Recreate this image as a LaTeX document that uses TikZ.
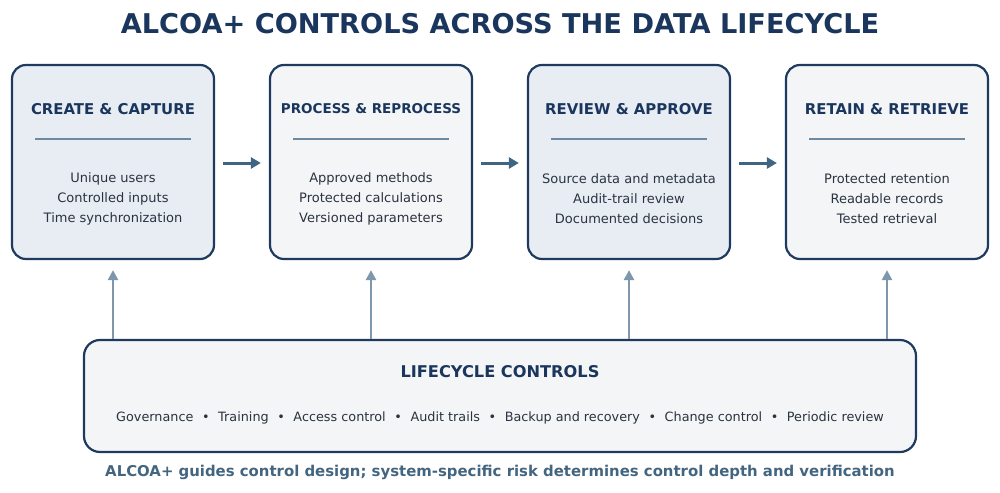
\documentclass[tikz,border=0pt]{standalone}
\usepackage{fontspec}
\setmainfont{DejaVu Sans}
\usetikzlibrary{arrows.meta,positioning}
\definecolor{navy}{HTML}{1B365D}
\definecolor{border}{HTML}{1E3A5F}
\definecolor{fillA}{HTML}{E8EDF4}
\definecolor{fillB}{HTML}{F4F5F7}
\definecolor{sep}{HTML}{6E8AA3}
\definecolor{harrow}{HTML}{3F6584}
\definecolor{varrow}{HTML}{7E97AC}
\definecolor{capc}{HTML}{43657F}
\definecolor{bodyc}{HTML}{2A3340}
\newcommand{\bsep}{\hspace{8.6pt}•\hspace{8.6pt}}
\tikzset{
  x=1pt, y=-1pt,
  stage/.style={draw=border, line width=2.2pt, rounded corners=14pt, minimum width=202pt, minimum height=194pt, inner sep=0pt},
  stagetitle/.style={font=\bfseries\fontsize{14.9}{17}\selectfont, text=navy},
  stagebody/.style={font=\fontsize{13}{20}\selectfont, text=bodyc, align=center},
  sepline/.style={draw=sep, line width=2pt},
  harr/.style={draw=harrow, line width=3pt, -{Triangle[length=10pt,width=11pt]}},
  varr/.style={draw=varrow, line width=2.6pt, -{Triangle[length=10pt,width=10pt]}},
}
\begin{document}
\begin{tikzpicture}
\useasboundingbox (0,0) rectangle (1000,492);
\node[font=\bfseries\fontsize{27.2}{32}\selectfont, text=navy] (title) at (500,24) {ALCOA+ CONTROLS ACROSS THE DATA LIFECYCLE};
% stages
\node[stage, fill=fillA] (s1) at (113,162) {};
\node[stage, fill=fillB] (s2) at (371,162) {};
\node[stage, fill=fillA] (s3) at (629,162) {};
\node[stage, fill=fillB] (s4) at (887,162) {};
\node[stagetitle] (t1) at (113,109) {CREATE \& CAPTURE};
\node[stagetitle, font=\bfseries\fontsize{13.5}{17}\selectfont] (t2) at (371,109) {PROCESS \& REPROCESS};
\node[stagetitle] (t3) at (629,109) {REVIEW \& APPROVE};
\node[stagetitle] (t4) at (887,109) {RETAIN \& RETRIEVE};
\foreach \c in {113,371,629,887} {\draw[sepline] (\c-78,139) -- (\c+78,139);}
\node[stagebody] (b1) at (113,198.5) {Unique users\\Controlled inputs\\Time synchronization};
\node[stagebody] (b2) at (371,198.5) {Approved methods\\Protected calculations\\Versioned parameters};
\node[stagebody] (b3) at (629,199) {Source data and metadata\\Audit-trail review\\Documented decisions};
\node[stagebody] (b4) at (887,199) {Protected retention\\Readable records\\Tested retrieval};
% horizontal arrows
\draw[harr] ([xshift=8pt,yshift=-1pt]s1.east) -- ([xshift=-8pt,yshift=-1pt]s2.west);
\draw[harr] ([xshift=8pt,yshift=-1pt]s2.east) -- ([xshift=-8pt,yshift=-1pt]s3.west);
\draw[harr] ([xshift=8pt,yshift=-1pt]s3.east) -- ([xshift=-8pt,yshift=-1pt]s4.west);
% bottom box
\node[draw=border, line width=2.2pt, rounded corners=16pt, fill=fillB, minimum width=832pt, minimum height=112pt, inner sep=0pt] (ctl) at (500,396) {};
\node[font=\bfseries\fontsize{16.2}{19}\selectfont, text=navy] (ctlt) at (500,372) {LIFECYCLE CONTROLS};
\node[font=\fontsize{12.8}{15}\selectfont, text=bodyc] (ctlb) at (500,417.5) {Governance\bsep Training\bsep Access control\bsep Audit trails\bsep Backup and recovery\bsep Change control\bsep Periodic review};
% vertical arrows
\foreach \i in {1,2,3,4} {
  \draw[varr] (ctl.north -| s\i.south) -- ([yshift=-10pt]s\i.south);
}
\node[font=\bfseries\fontsize{14.9}{17}\selectfont, text=capc] (cap) at (500,472) {ALCOA+ guides control design; system-specific risk determines control depth and verification};
\end{tikzpicture}
\end{document}
